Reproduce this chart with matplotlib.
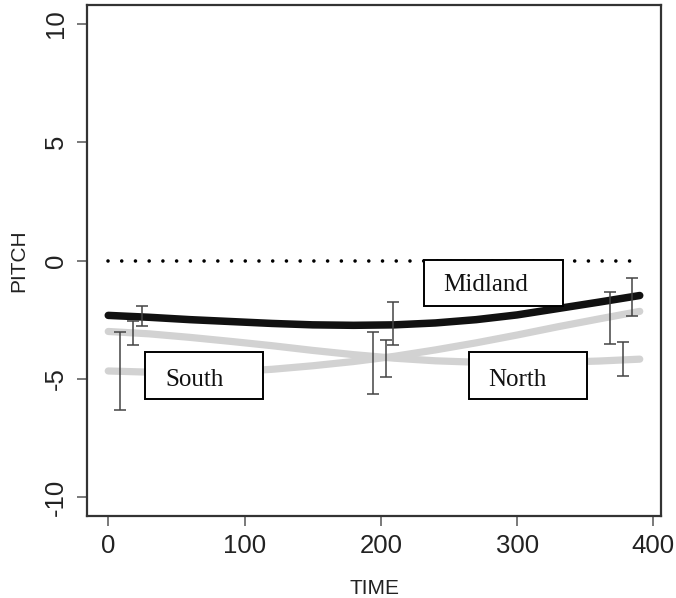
import numpy as np
import matplotlib
matplotlib.use("Agg")
import matplotlib.pyplot as plt
from matplotlib.patches import Rectangle

# ---- data ----
time_grid = [0, 30, 60, 90, 120, 150, 180, 210, 240, 270, 300, 330, 360, 390]
midland_curve = [-2.32, -2.40, -2.50, -2.58, -2.66, -2.72, -2.74, -2.72, -2.64, -2.50, -2.30, -2.03, -1.76, -1.48]
north_curve = [-3.00, -3.10, -3.25, -3.42, -3.60, -3.80, -3.98, -4.13, -4.24, -4.30, -4.32, -4.30, -4.25, -4.17]
south_curve = [-4.67, -4.72, -4.74, -4.70, -4.60, -4.45, -4.27, -4.05, -3.78, -3.48, -3.15, -2.80, -2.47, -2.15]

# error bars: x position, upper and lower ends
south_err_x = [8.8, 194.0, 368.5]
south_err_hi = [-3.03, -3.03, -1.35]
south_err_lo = [-6.32, -5.64, -3.54]

north_err_x = [18.3, 203.7, 378.0]
north_err_hi = [-2.57, -3.37, -3.45]
north_err_lo = [-3.58, -4.93, -4.88]

midland_err_x = [24.9, 208.8, 384.6]
midland_err_hi = [-1.94, -1.77, -0.76]
midland_err_lo = [-2.78, -3.58, -2.36]

reference_level = 0
x_ticks = [0, 100, 200, 300, 400]
y_ticks = [-10, -5, 0, 5, 10]
labels = ["Midland", "North", "South"]

# ---- figure ----
W, H = 676, 598
fig = plt.figure(figsize=(W / 100, H / 100), dpi=100)
ax = fig.add_axes([87 / W, 1 - 516 / H, (661 - 87) / W, (516 - 5) / H])

ax.set_xlim(-15.6, 405.6)
ax.set_ylim(-10.8, 10.8)

# reference dotted line
ax.plot([time_grid[0], time_grid[-1]], [reference_level, reference_level],
        color="black", lw=2.6, linestyle=(0, (0.001, 3.8)),
        dash_capstyle="round", zorder=2)

# smooth curves
ax.plot(time_grid, north_curve, color="#d2d2d2", lw=5.2, solid_capstyle="round", zorder=3)
ax.plot(time_grid, south_curve, color="#d2d2d2", lw=5.2, solid_capstyle="round", zorder=3)
ax.plot(time_grid, midland_curve, color="#111111", lw=5.4, solid_capstyle="round", zorder=4)

# error bars
for xs, hi, lo in [(south_err_x, south_err_hi, south_err_lo),
                   (north_err_x, north_err_hi, north_err_lo),
                   (midland_err_x, midland_err_hi, midland_err_lo)]:
    xs = np.array(xs)
    hi = np.array(hi)
    lo = np.array(lo)
    mid = (hi + lo) / 2
    ax.errorbar(xs, mid, yerr=[mid - lo, hi - mid], fmt="none",
                ecolor="#444444", elinewidth=1.1, capsize=4.3, capthick=1.1, zorder=5)

# label boxes (white filled, on top)
box_specs = {
    "Midland": (231.5, -1.94, 102.5, 1.98, 246, -1.31),
    "North": (265.0, -5.85, 86.6, 1.98, 279, -5.30),
    "South": (27.0, -5.85, 86.6, 1.98, 42, -5.30),
}
serif = ["Liberation Serif", "DejaVu Serif"]
for name in labels:
    x0, y0, w, h, tx, ty = box_specs[name]
    ax.add_patch(Rectangle((x0, y0), w, h, facecolor="white", edgecolor="black",
                           lw=1.4, zorder=6))
    ax.text(tx, ty, name, family=serif, fontsize=18, ha="left", va="baseline",
            color="#111111", zorder=7)

# axes styling
for s in ax.spines.values():
    s.set_color("#333333")
    s.set_linewidth(1.6)

sans = ["Liberation Sans", "DejaVu Sans"]
ax.set_xticks(x_ticks)
ax.set_yticks(y_ticks)
ax.set_xticklabels([str(v) for v in x_ticks], family=sans, fontsize=18.5, color="#222222")
ax.set_yticklabels([str(v) for v in y_ticks], family=sans, fontsize=18.5, color="#222222",
                   rotation=90, va="center")
ax.tick_params(axis="both", direction="out", length=7.2, width=1.1, color="#555555")
ax.tick_params(axis="x", pad=5.5)
ax.tick_params(axis="y", pad=6.5)

ax.set_xlabel("TIME", family=sans, fontsize=15, color="#222222")
ax.xaxis.label.set_va("baseline")
ax.xaxis.set_label_coords(0.5, (516 - 594) / 511)
ax.set_ylabel("PITCH", family=sans, fontsize=15, color="#222222")
ax.yaxis.label.set_va("baseline")
ax.yaxis.set_label_coords((24 - 87) / 574, 0.5)

fig.savefig("out.png", dpi=100)
